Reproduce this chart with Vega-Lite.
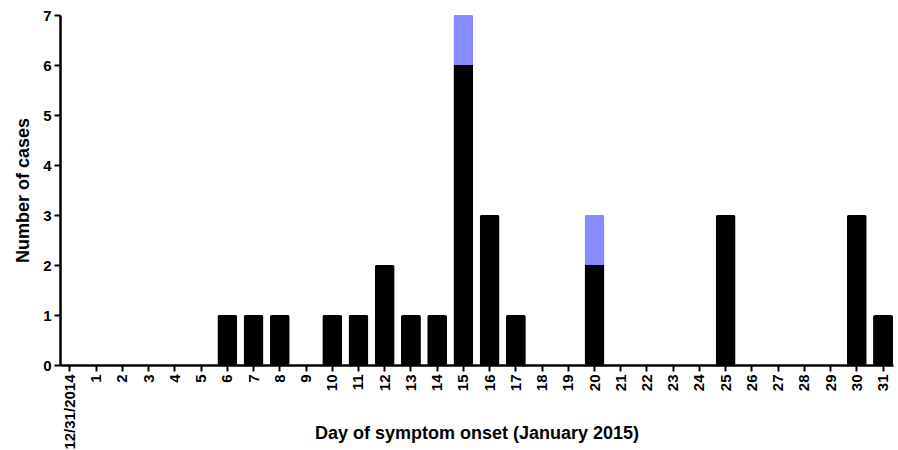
{
  "$schema": "https://vega.github.io/schema/vega-lite/v6.json",
  "width": 833,
  "height": 350,
  "autosize": "none",
  "padding": {"left": 60, "top": 15, "right": 5, "bottom": 85},
  "background": "white",
  "config": {
    "view": {"stroke": null},
    "font": "Liberation Sans",
    "axis": {
      "labelFont": "Liberation Sans",
      "labelFontWeight": "bold",
      "labelFontSize": 14,
      "labelColor": "black",
      "titleFont": "Liberation Sans",
      "titleFontWeight": "bold",
      "titleFontSize": 18,
      "titleColor": "black",
      "domainColor": "black",
      "domainWidth": 2.5,
      "tickColor": "black",
      "tickWidth": 2,
      "tickSize": 6,
      "grid": false
    }
  },
  "data": {
    "values": [
      {"day": "12/31/2014", "type": "a", "n": 0},
      {"day": "1", "type": "a", "n": 0},
      {"day": "2", "type": "a", "n": 0},
      {"day": "3", "type": "a", "n": 0},
      {"day": "4", "type": "a", "n": 0},
      {"day": "5", "type": "a", "n": 0},
      {"day": "6", "type": "a", "n": 1},
      {"day": "7", "type": "a", "n": 1},
      {"day": "8", "type": "a", "n": 1},
      {"day": "9", "type": "a", "n": 0},
      {"day": "10", "type": "a", "n": 1},
      {"day": "11", "type": "a", "n": 1},
      {"day": "12", "type": "a", "n": 2},
      {"day": "13", "type": "a", "n": 1},
      {"day": "14", "type": "a", "n": 1},
      {"day": "15", "type": "a", "n": 6},
      {"day": "15", "type": "b", "n": 1},
      {"day": "16", "type": "a", "n": 3},
      {"day": "17", "type": "a", "n": 1},
      {"day": "18", "type": "a", "n": 0},
      {"day": "19", "type": "a", "n": 0},
      {"day": "20", "type": "a", "n": 2},
      {"day": "20", "type": "b", "n": 1},
      {"day": "21", "type": "a", "n": 0},
      {"day": "22", "type": "a", "n": 0},
      {"day": "23", "type": "a", "n": 0},
      {"day": "24", "type": "a", "n": 0},
      {"day": "25", "type": "a", "n": 3},
      {"day": "26", "type": "a", "n": 0},
      {"day": "27", "type": "a", "n": 0},
      {"day": "28", "type": "a", "n": 0},
      {"day": "29", "type": "a", "n": 0},
      {"day": "30", "type": "a", "n": 3},
      {"day": "31", "type": "a", "n": 1}
    ]
  },
  "mark": {"type": "bar", "cornerRadius": 2},
  "encoding": {
    "x": {
      "field": "day",
      "type": "ordinal",
      "sort": null,
      "scale": {"paddingInner": 0.24, "paddingOuter": 0.0},
      "axis": {"labelAngle": -90, "labelFontSize": 15, "labelPadding": 3, "title": "Day of symptom onset (January 2015)", "titleBaseline": "alphabetic", "titleY": 73}
    },
    "y": {
      "field": "n",
      "type": "quantitative",
      "stack": "zero",
      "scale": {"domain": [0, 7], "nice": false},
      "axis": {"values": [0, 1, 2, 3, 4, 5, 6, 7], "labelFontSize": 15, "labelPadding": 3, "title": "Number of cases", "titleBaseline": "middle", "titleX": -37}
    },
    "color": {
      "field": "type",
      "type": "nominal",
      "scale": {"domain": ["a", "b"], "range": ["#000000", "#8a8aff"]},
      "legend": null
    },
    "order": {"field": "type", "sort": "ascending"}
  }
}
